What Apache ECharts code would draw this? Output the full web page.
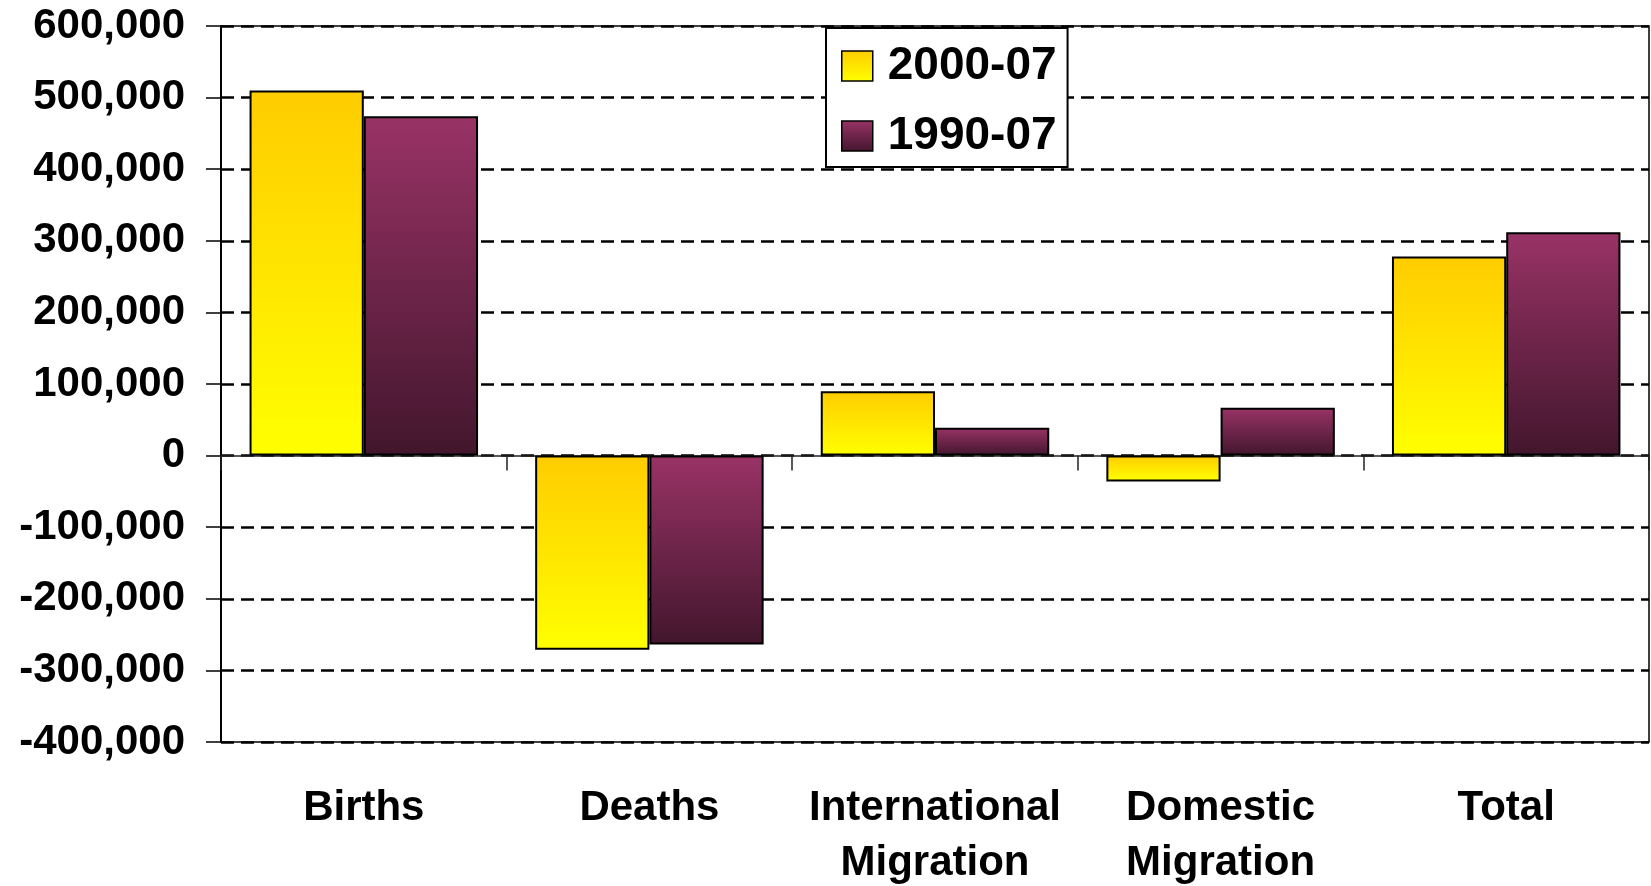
<!DOCTYPE html>
<html>
<head>
<meta charset="utf-8">
<script src="https://cdn.jsdelivr.net/npm/echarts@6/dist/echarts.min.js"></script>
<style>
html,body{margin:0;padding:0;background:#fff;}
#chart{width:1651px;height:886px;}
</style>
</head>
<body>
<div id="chart"></div>
<script>
const categories = ['Births', 'Deaths', 'International\nMigration', 'Domestic\nMigration', 'Total'];
const seriesNames = ['2000-07', '1990-07'];
const values2000 = [510000, -271000, 90000, -36000, 278000];
const values1990 = [474000, -264000, 39000, 67000, 312000];
const yTicks = { min: -400000, max: 600000, interval: 100000 };

const FONT = '"Liberation Sans", Arial, sans-serif';
const yellowGrad = new echarts.graphic.LinearGradient(0, 0, 0, 1, [
  { offset: 0, color: '#FFCC00' }, { offset: 1, color: '#FFFF00' }
]);
const purpleGrad = new echarts.graphic.LinearGradient(0, 0, 0, 1, [
  { offset: 0, color: '#993366' }, { offset: 1, color: '#42162D' }
]);

const chart = echarts.init(document.getElementById('chart'), null, { renderer: 'canvas' });
chart.setOption({
  animation: false,
  backgroundColor: '#fff',
  grid: {
    left: 221, right: 2, top: 26, bottom: 144,
    containLabel: false, outerBoundsMode: 'none',
    show: true, borderColor: '#000', borderWidth: 1.5, backgroundColor: 'transparent'
  },
  legend: {
    orient: 'vertical',
    left: 826, top: 28,
    padding: [7, 11, 0, 15],
    itemGap: 8,
    itemWidth: 31, itemHeight: 30,
    backgroundColor: '#fff',
    borderColor: '#000', borderWidth: 2,
    icon: 'rect',
    itemStyle: { borderColor: '#000', borderWidth: 1.5 },
    textStyle: { fontFamily: FONT, fontWeight: 'bold', fontSize: 46, color: '#000', lineHeight: 50, padding: [12, 0, 0, 10] },
    data: seriesNames
  },
  xAxis: [
    {
      type: 'category', data: categories, position: 'bottom',
      axisLine: { show: false, onZero: false },
      axisTick: { show: false },
      axisLabel: { fontFamily: FONT, fontWeight: 'bold', fontSize: 42, color: '#000', lineHeight: 55, margin: 39, interval: 0 },
      splitLine: { show: false }
    },
    {
      type: 'category', data: categories, position: 'bottom',
      axisLine: { show: true, onZero: true, lineStyle: { color: '#222', width: 1.5 } },
      axisTick: { show: true, length: 15, lineStyle: { color: '#222', width: 1.5 } },
      axisLabel: { show: false },
      splitLine: { show: false }
    }
  ],
  yAxis: {
    type: 'value', min: yTicks.min, max: yTicks.max, interval: yTicks.interval,
    axisLine: { show: true, lineStyle: { color: '#000', width: 2 } },
    axisTick: { show: true, length: 15, lineStyle: { color: '#000', width: 1.5 } },
    axisLabel: {
      fontFamily: FONT, fontWeight: 'bold', fontSize: 42, color: '#000', margin: 36,
      padding: [6, 0, 0, 0],
      formatter: v => v.toLocaleString('en-US')
    },
    splitLine: { show: true, lineStyle: { color: '#000', width: 2.5, type: [13, 7] } }
  },
  series: [
    {
      name: seriesNames[0], type: 'bar', data: values2000, xAxisIndex: 0,
      barGap: '0%', barCategoryGap: '20%',
      itemStyle: { color: yellowGrad, borderColor: '#000', borderWidth: 2 }
    },
    {
      name: seriesNames[1], type: 'bar', data: values1990, xAxisIndex: 0,
      barGap: '0%', barCategoryGap: '20%',
      itemStyle: { color: purpleGrad, borderColor: '#000', borderWidth: 2 }
    }
  ]
});
</script>
</body>
</html>
